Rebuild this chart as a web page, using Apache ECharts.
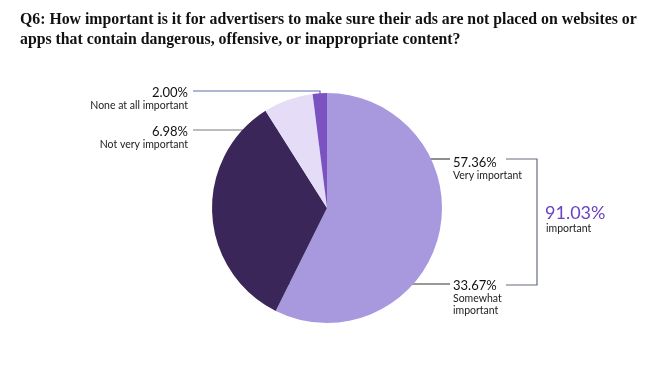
<!DOCTYPE html>
<html><head><meta charset="utf-8">
<script src="https://cdn.jsdelivr.net/npm/echarts@6/dist/echarts.min.js"></script>
<style>html,body{margin:0;padding:0;background:#fff}#c{width:650px;height:370px}</style>
</head><body><div id="c"></div>
<script>
var titleText = 'Q6: How important is it for advertisers to make sure their ads are not placed on websites or\napps that contain dangerous, offensive, or inappropriate content?';
var categories = ['Very important', 'Somewhat\nimportant', 'Not very important', 'None at all important'];
var values = [57.36, 33.67, 6.98, 2.00];
var colors = ['#a898de', '#3a2658', '#e5ddf8', '#7b53c1'];
var importantLabel = 'important';

var chart = echarts.init(document.getElementById('c'));
var combined = (values[0] + values[1]).toFixed(2) + '%';

// label anchor layout per slice
var layouts = [
  {x: 453, y: 156, align: 'left', pts: [[421,159],[436,159],[450,159]], lc: '#444'},
  {x: 453, y: 279, align: 'left', pts: [[276,284],[360,284],[450,284]], lc: '#333'},
  {x: 188, y: 125, align: 'right', pts: [[297,130],[250,130],[193,130]], lc: '#7a7a7a'},
  {x: 188, y: 86, align: 'right', pts: [[320,101],[320,91],[193,91]], lc: '#5f6ea8'}
];

chart.setOption({
  animation: false,
  title: {
    text: titleText, left: 20, top: 10, padding: 0,
    textStyle: {fontFamily: 'Liberation Serif', fontWeight: 'bold', fontSize: 15.8, lineHeight: 20, color: '#111'}
  },
  series: [{
    type: 'pie',
    center: [327, 208],
    radius: 115,
    startAngle: 90,
    clockwise: true,
    avoidLabelOverlap: false,
    data: categories.map(function (c, i) {
      return {name: c, value: values[i], itemStyle: {color: colors[i]},
        labelLine: {lineStyle: {color: layouts[i].lc}}};
    }),
    label: {
      show: true, position: 'outside',
      formatter: function (p) { return '{v|' + p.value.toFixed(2) + '%}\n{n|' + p.name.split('\n').join('}\n{n|') + '}'; },
      rich: {
        v: {fontFamily: 'Lato', fontSize: 13, lineHeight: 14, color: '#111'},
        n: {fontFamily: 'Lato', fontSize: 10.5, lineHeight: 12, color: '#222'}
      }
    },
    labelLine: {show: true, showAbove: true, lineStyle: {width: 1.2}},
    labelLayout: function (p) {
      var l = layouts[p.dataIndex];
      return {x: l.x, y: l.y, align: l.align, verticalAlign: 'top', labelLinePoints: l.pts};
    }
  }],
  graphic: [
    {type: 'polyline', shape: {points: [[506,159],[537,159],[537,285],[506,285]]}, style: {stroke: '#666b80', lineWidth: 1.2, fill: null}},
    {type: 'text', left: 545, top: 204, style: {text: combined, font: '18px Lato', fill: '#6a42c2'}},
    {type: 'text', left: 546, top: 223, style: {text: importantLabel, font: '10.5px Lato', fill: '#222'}}
  ]
});
</script></body></html>
